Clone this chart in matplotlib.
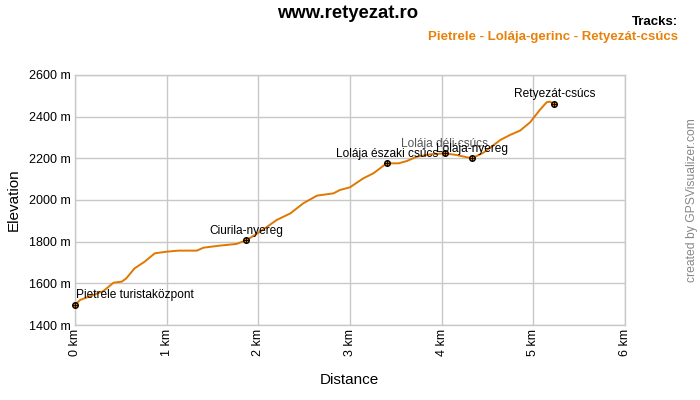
import matplotlib
matplotlib.use("Agg")
import matplotlib.pyplot as plt

plt.rcParams['font.family'] = ['Liberation Sans', 'DejaVu Sans']

dist_km = [0.0, 0.055, 0.2, 0.31, 0.42, 0.51, 0.56, 0.65, 0.76, 0.87, 1.0, 1.13, 1.33, 1.4,
           1.58, 1.76, 1.865, 2.02, 2.2, 2.35, 2.49, 2.64, 2.82, 2.89, 3.0, 3.145, 3.255,
           3.4, 3.53, 3.62, 3.73, 3.87, 4.036, 4.16, 4.33, 4.455, 4.64, 4.745, 4.855,
           4.965, 5.07, 5.145, 5.18, 5.23]
elev_m = [1496, 1520, 1544, 1563, 1603, 1608, 1624, 1672, 1704, 1744, 1752, 1757, 1757, 1771,
          1781, 1789, 1806, 1848, 1904, 1936, 1984, 2021, 2032, 2048, 2061, 2104, 2128,
          2176, 2176, 2187, 2208, 2219, 2224, 2216, 2200, 2227, 2288, 2312, 2333,
          2373, 2432, 2469, 2472, 2461]

wpt_names = ["Pietrele turistaközpont", "Ciurila-nyereg", "Lolája északi csúcs",
             "Lolája déli csúcs", "Lolája-nyereg", "Retyezát-csúcs"]
wpt_km = [0.0, 1.865, 3.4, 4.036, 4.33, 5.23]
wpt_elev = [1496, 1806, 2176, 2224, 2200, 2461]

yticks = [1400, 1600, 1800, 2000, 2200, 2400, 2600]
xticks = [0, 1, 2, 3, 4, 5, 6]

orange = '#E07800'

fig = plt.figure(figsize=(7, 4), dpi=100)
ax = fig.add_axes([75/700, 1-325/400, 550/700, 250/400])

# waypoint label behind the line
for name, x, y in zip(wpt_names, wpt_km, wpt_elev):
    if name == "Lolája déli csúcs":
        ax.annotate(name, (x, y), xytext=(0, 7), textcoords='offset points',
                    ha='center', va='center', fontsize=8.6, color='#555555', zorder=2)

ax.plot(dist_km, elev_m, color=orange, lw=1.4, zorder=3)
ax.plot(wpt_km, wpt_elev, ls='none', marker='o', ms=4, mfc=orange, mec='black',
        mew=1.0, zorder=4, clip_on=False)
ax.plot(wpt_km, wpt_elev, ls='none', marker='+', ms=4, mec='black',
        mew=0.6, zorder=4, clip_on=False)

for name, x, y in zip(wpt_names, wpt_km, wpt_elev):
    if name == "Lolája déli csúcs":
        continue
    if name == "Pietrele turistaközpont":
        ax.annotate(name, (x, y), xytext=(1, 7), textcoords='offset points',
                    ha='left', va='center', fontsize=8.6, color='black', zorder=5)
    else:
        ax.annotate(name, (x, y), xytext=(0, 7), textcoords='offset points',
                    ha='center', va='center', fontsize=8.6, color='black', zorder=5)

ax.set_xlim(0, 6)
ax.set_ylim(1400, 2600)
ax.set_xticks(xticks)
ax.set_xticklabels([f"{t} km" for t in xticks], rotation=90, fontsize=9)
ax.set_yticks(yticks)
ax.set_yticklabels([f"{t} m" for t in yticks], fontsize=9)
ax.tick_params(length=0, pad=3)
ax.grid(True, color='#c8c8c8', lw=1)
ax.set_axisbelow(True)
for s in ax.spines.values():
    s.set_color('#c8c8c8')
    s.set_linewidth(1)

fig.text(14/700, 1-200/400, "Elevation", rotation=90, ha='center', va='center', fontsize=11)
fig.text(349/700, 1-380/400, "Distance", ha='center', va='center', fontsize=11)
fig.text(348/700, 1-13/400, "www.retyezat.ro", ha='center', va='center', fontsize=13.3, fontweight='bold')
fig.text(678/700, 1-22/400, "Tracks:", ha='right', va='center', fontsize=9.5, fontweight='bold')
fig.text(678/700, 1-37/400, "Pietrele - Lolája-gerinc - Retyezát-csúcs", ha='right', va='center',
         fontsize=9.5, fontweight='bold', color='#E8820C')
fig.text(692/700, 1-200/400, "created by GPSVisualizer.com", rotation=90, ha='center', va='center',
         fontsize=8.7, color='#888888')

fig.savefig("out.png", dpi=100)
